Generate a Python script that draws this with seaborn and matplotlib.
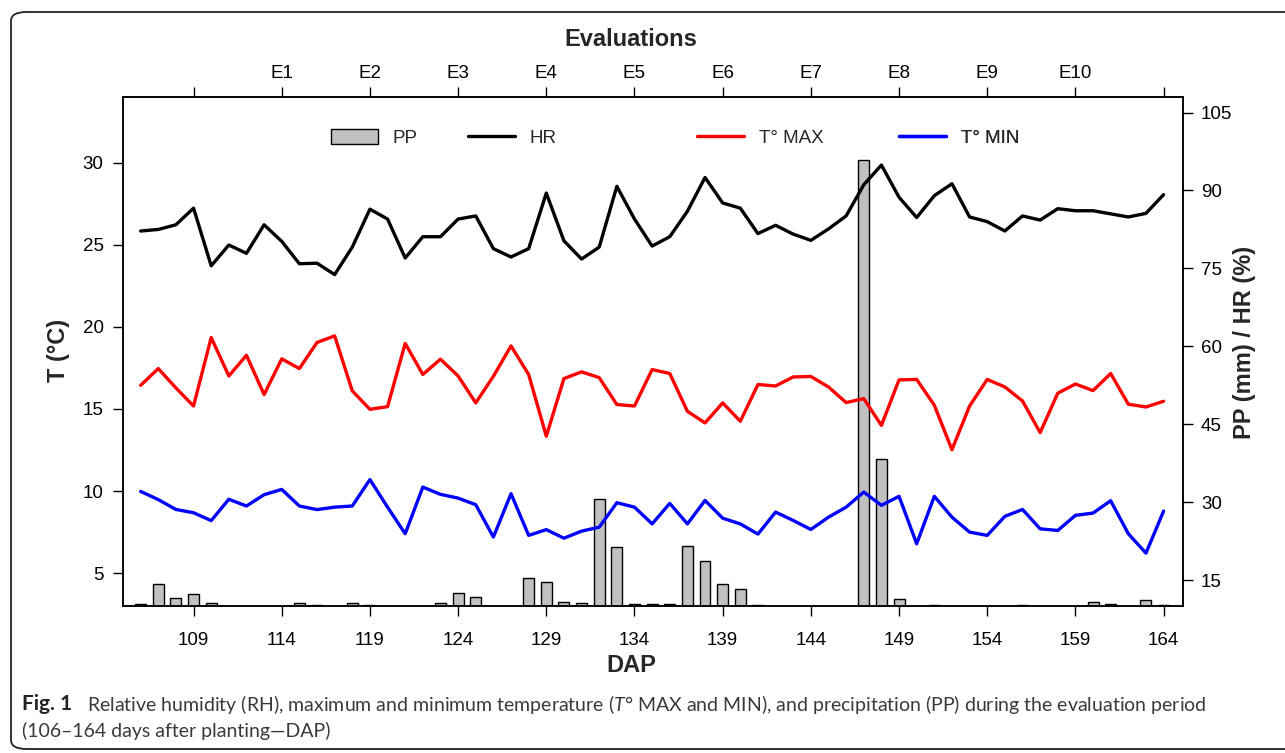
import matplotlib
matplotlib.use("Agg")
import numpy as np
import pandas as pd
import matplotlib.pyplot as plt
import seaborn as sns
from matplotlib.patches import Patch, FancyBboxPatch
from matplotlib.lines import Line2D

# ---------------- data ----------------
dap = [106, 107, 108, 109, 110, 111, 112, 113, 114, 115, 116, 117, 118, 119, 120,
       121, 122, 123, 124, 125, 126, 127, 128, 129, 130, 131, 132, 133, 134, 135,
       136, 137, 138, 139, 140, 141, 142, 143, 144, 145, 146, 147, 148, 149, 150,
       151, 152, 153, 154, 155, 156, 157, 158, 159, 160, 161, 162, 163, 164]

hr = [82.2, 82.5, 83.4, 86.6, 75.5, 79.5, 77.9, 83.4, 80.2, 75.9, 76.0, 73.8, 79.1, 86.4, 84.5,
      77.0, 81.1, 81.1, 84.5, 85.1, 78.8, 77.2, 78.8, 89.5, 80.3, 76.8, 79.1, 90.8, 84.5, 79.3,
      81.1, 86.0, 92.5, 87.6, 86.6, 81.7, 83.3, 81.6, 80.4, 82.6, 85.1, 91.1, 94.9, 88.7, 84.8,
      89.0, 91.3, 84.9, 84.0, 82.2, 85.1, 84.3, 86.5, 86.1, 86.1, 85.5, 84.9, 85.6, 89.2]

tmax = [16.44, 17.46, 16.28, 15.18, 19.35, 17.01, 18.27, 15.88, 18.05, 17.46, 19.05, 19.45, 16.1, 14.98, 15.14,
        18.99, 17.1, 18.03, 17.01, 15.37, 16.99, 18.84, 17.1, 13.34, 16.85, 17.26, 16.91, 15.27, 15.18, 17.4,
        17.16, 14.86, 14.15, 15.37, 14.25, 16.49, 16.4, 16.95, 16.98, 16.34, 15.39, 15.63, 14.0, 16.77, 16.8,
        15.23, 12.52, 15.18, 16.8, 16.34, 15.49, 13.56, 15.96, 16.52, 16.12, 17.16, 15.29, 15.12, 15.47]

tmin = [9.98, 9.48, 8.88, 8.68, 8.2, 9.5, 9.09, 9.78, 10.1, 9.09, 8.87, 9.02, 9.09, 10.7, 9.02,
        7.4, 10.24, 9.8, 9.57, 9.17, 7.2, 9.84, 7.3, 7.65, 7.13, 7.56, 7.8, 9.29, 9.02, 8.0,
        9.25, 8.0, 9.43, 8.35, 8.0, 7.38, 8.72, 8.21, 7.66, 8.41, 9.02, 9.94, 9.13, 9.68, 6.79,
        9.68, 8.41, 7.5, 7.3, 8.46, 8.88, 7.7, 7.6, 8.52, 8.66, 9.41, 7.4, 6.22, 8.78]

pp = [10.3, 14.2, 11.6, 12.25, 10.5, 0, 0, 0, 0, 10.5, 10.15, 0, 10.6, 10.15, 0,
      0, 0, 10.6, 12.56, 11.7, 0, 0, 15.3, 14.6, 10.8, 10.5, 30.6, 21.3, 10.4, 10.45,
      10.35, 21.6, 18.7, 14.3, 13.3, 10.25, 0, 0, 0, 0, 0, 95.9, 38.3, 11.35, 0,
      10.1, 0, 0, 0, 0, 10.15, 0, 0, 0, 10.8, 10.3, 0, 11.2, 10.15]

dap_ticks = [109, 114, 119, 124, 129, 134, 139, 144, 149, 154, 159, 164]
eval_ticks = [109, 114, 119, 124, 129, 134, 139, 144, 149, 154, 159, 164]
eval_labels = ["", "E1", "E2", "E3", "E4", "E5", "E6", "E7", "E8", "E9", "E10", ""]
t_ticks = [5, 10, 15, 20, 25, 30]
r_ticks = [15, 30, 45, 60, 75, 90, 105]

df = pd.DataFrame({"DAP": dap, "HR": hr, "TMAX": tmax, "TMIN": tmin, "PP": pp})

# ---------------- style ----------------
sns.set_theme(style="ticks")
plt.rcParams["font.family"] = ["Liberation Sans", "DejaVu Sans"]
plt.rcParams["mathtext.fontset"] = "custom"
plt.rcParams["mathtext.it"] = "Lato:italic"
plt.rcParams["mathtext.rm"] = "Lato"
plt.rcParams["axes.linewidth"] = 1.1

W, H = 1285, 753
fig = plt.figure(figsize=(W / 100, H / 100), dpi=100)
fig.patch.set_facecolor("white")

ax = fig.add_axes([123 / W, 1 - 606 / H, (1183 - 123) / W, (606 - 97) / H])
ax2 = ax.twinx()

# bars + HR on right axis
sns.barplot(data=df, x="DAP", y="PP", native_scale=True, width=0.62,
            color="#c0c0c0", saturation=1, edgecolor="black", linewidth=1.0,
            ax=ax2, zorder=1)
sns.lineplot(data=df, x="DAP", y="HR", color="black", linewidth=2.4, ax=ax2, zorder=3)

# temperatures on left axis
sns.lineplot(data=df, x="DAP", y="TMAX", color="#ff0000", linewidth=2.4, ax=ax)
sns.lineplot(data=df, x="DAP", y="TMIN", color="#0000ff", linewidth=2.4, ax=ax)

ax.set_zorder(ax2.get_zorder() + 1)
ax.patch.set_visible(False)

ax.set_xlim(105.0, 165.1)
ax2.set_xlim(105.0, 165.1)
ax.set_ylim(3, 34)
ax2.set_ylim(10, 108)

ax.set_xticks(dap_ticks)
ax.set_xticklabels([str(v) for v in dap_ticks])
ax.set_yticks(t_ticks)
ax2.set_yticks(r_ticks)

ax.set_xlabel("")
ax.set_ylabel("")
ax2.set_xlabel("")
ax2.set_ylabel("")

ax.tick_params(axis="x", direction="out", length=7, width=1, labelsize=13.5, pad=12, colors="black")
ax.tick_params(axis="y", direction="out", length=7, width=1, labelsize=13.5, pad=7, colors="black")
ax2.tick_params(axis="y", direction="out", length=7, width=1, labelsize=13.5, pad=6, colors="black")
for sp in list(ax.spines.values()) + list(ax2.spines.values()):
    sp.set_color("black")
    sp.set_linewidth(1.1)

sec = ax.secondary_xaxis("top")
sec.set_xticks(eval_ticks)
sec.set_xticklabels(eval_labels)
sec.tick_params(axis="x", direction="out", length=7, width=1, labelsize=13.5, pad=4, colors="black")

# axis titles
fig.text(631 / W, 1 - 40 / H, "Evaluations", ha="center", va="center", fontsize=17, fontweight="bold")
fig.text(631 / W, 1 - 665 / H, "DAP", ha="center", va="center", fontsize=17, fontweight="bold")
fig.text(58 / W, 1 - 350 / H, "T (°C)", ha="center", va="center", rotation=90, fontsize=17, fontweight="bold")
fig.text(1244 / W, 1 - 342 / H, "PP (mm) / HR (%)", ha="center", va="center", rotation=90, fontsize=17, fontweight="bold")

# legend: four single entries placed along the top
entries = [
    (331, Patch(facecolor="#c0c0c0", edgecolor="black", linewidth=1.0), "PP"),
    (468, Line2D([], [], color="black", linewidth=2.4), "HR"),
    (697, Line2D([], [], color="#ff0000", linewidth=2.4), "T° MAX"),
    (899, Line2D([], [], color="#0000ff", linewidth=2.4), "T° MIN"),
]
for xpx, h, lab in entries:
    lg = ax.legend([h], [lab], loc="center left", bbox_to_anchor=(xpx / W, 1 - 138 / H),
                   bbox_transform=fig.transFigure, frameon=False, fontsize=13.5,
                   borderpad=0, borderaxespad=0, handlelength=2.5, handleheight=0.8,
                   handletextpad=0.8)
    ax.add_artist(lg)

# caption
cap_col = "#3a3a3a"
cap_font = ["Lato", "DejaVu Sans"]
fig.text(22 / W, 1 - 704 / H, "Fig. 1", ha="left", va="center", fontsize=15,
         fontweight="bold", color="#222222", family=cap_font)
fig.text(87 / W, 1 - 704 / H,
         r"Relative humidity (RH), maximum and minimum temperature ($\mathit{T}$° MAX and MIN), and precipitation (PP) during the evaluation period",
         ha="left", va="center", fontsize=14, color=cap_col, family=cap_font)
fig.text(22 / W, 1 - 731 / H, "(106–164 days after planting—DAP)", ha="left", va="center",
         fontsize=14, color=cap_col, family=cap_font)

# rounded frame around the figure (open on the right, as cropped)
frame = FancyBboxPatch((11 / W, 4 / H), (1400 - 11) / W, (H - 12 - 4) / H,
                       boxstyle="round,pad=0,rounding_size=0.012", transform=fig.transFigure,
                       facecolor="none", edgecolor="#222222", linewidth=1.3, clip_on=False)
fig.patches.append(frame)

fig.savefig("out.png", dpi=100)
